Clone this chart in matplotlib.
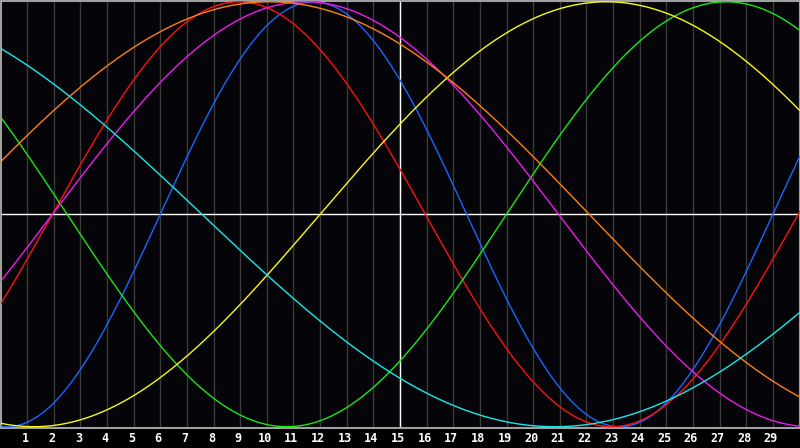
import numpy as np
import matplotlib
matplotlib.use('Agg')
import matplotlib.pyplot as plt
import matplotlib.transforms as mtransforms

# biorhythm cycles: period (days) and day of the rising zero crossing
cycle_names = ['physical', 'emotional', 'intellectual', 'intuitive', 'aesthetic', 'awareness', 'spiritual']
cycle_periods = [23, 28, 33, 38, 43, 48, 53]
rising_zero_day = [6.0, 1.95, -14.0, 1.95, 12.0, -1.9, -18.94]
cycle_colors = ['#1a66ff', '#ff1010', '#18e818', '#f018f0', '#f8f818', '#ff8010', '#18e8e8']

days = list(range(1, 30))
day_labels = [str(d) for d in days]
n_days = 30

fig = plt.figure(figsize=(8, 4.48), dpi=100, facecolor='#000000')
ax = fig.add_axes([0.5 / 800, 20 / 448, 799 / 800, 427.5 / 448])
ax.set_facecolor('#050509')

t = np.linspace(0, n_days, 1200)
for d in days:
    ax.axvline(d, color='#3a3a3a', lw=1, zorder=1)

for period, z, col in zip(cycle_periods, rising_zero_day, cycle_colors):
    ax.plot(t, np.sin(2 * np.pi * (t - z) / period), color=col, lw=1, zorder=3)

ax.axhline(0, color='white', lw=1.0, zorder=2)
ax.axvline(n_days / 2, color='white', lw=1.0, zorder=2)

ax.set_xlim(0, n_days)
ax.set_ylim(-1.006, 1.006)
ax.set_yticks([])
ax.set_xticks(days)
ax.set_xticklabels(day_labels, family='DejaVu Sans Mono', fontweight='bold',
                   fontsize=8.5, color='white')
ax.tick_params(axis='x', length=0, pad=3)
shift = mtransforms.ScaledTranslation(-2 / 100, 0, fig.dpi_scale_trans)
for lab in ax.get_xticklabels():
    lab.set_transform(lab.get_transform() + shift)
for s in ax.spines.values():
    s.set_color('#a0a0a0')
    s.set_linewidth(1.5)

fig.savefig('out.png', dpi=100, facecolor=fig.get_facecolor())
